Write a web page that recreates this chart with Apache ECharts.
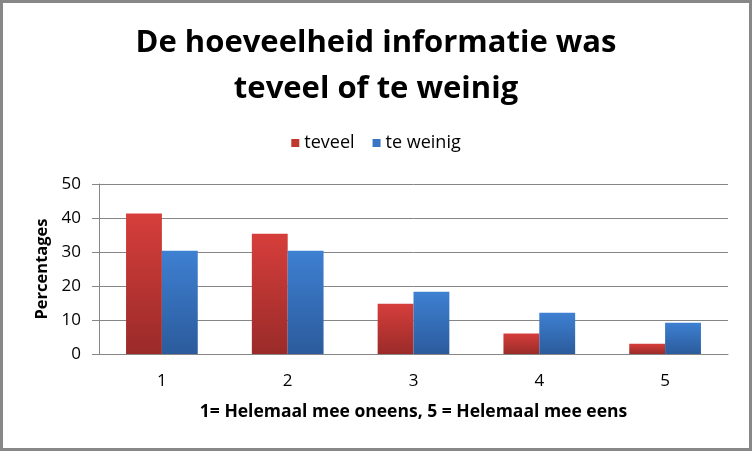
<!DOCTYPE html>
<html>
<head>
<meta charset="utf-8">
<script src="https://cdn.jsdelivr.net/npm/echarts@6/dist/echarts.min.js"></script>
<style>html,body{margin:0;padding:0;background:#fff;}#c{width:752px;height:451px;}</style>
</head>
<body>
<div id="c"></div>
<script>
const categories = ['1', '2', '3', '4', '5'];
const teveel = [41.3, 35.4, 14.8, 6.0, 3.0];
const teWeinig = [30.4, 30.4, 18.3, 12.1, 9.2];
const yTicks = { min: 0, max: 50, interval: 10 };

const FONT = 'Open Sans';
const chart = echarts.init(document.getElementById('c'));
function grad(top, bottom) {
  return new echarts.graphic.LinearGradient(0, 0, 0, 1, [
    { offset: 0, color: top }, { offset: 1, color: bottom }
  ]);
}
chart.setOption({
  backgroundColor: '#fff',
  animation: false,
  textStyle: { fontFamily: FONT },
  title: {
    text: 'De hoeveelheid informatie was\nteveel of te weinig',
    left: 'center', top: 15,
    textStyle: { fontFamily: FONT, fontWeight: 'bold', fontSize: 31, lineHeight: 46, color: '#000' }
  },
  legend: {
    top: 129, left: 'center',
    itemWidth: 8, itemHeight: 8, itemGap: 18,
    icon: 'rect',
    textStyle: { fontFamily: FONT, fontSize: 18, color: '#000' },
    data: [
      { name: 'teveel', itemStyle: { color: '#c0392f' } },
      { name: 'te weinig', itemStyle: { color: '#3a75c4' } }
    ]
  },
  grid: { left: 99, right: 24, top: 184, bottom: 97 },
  xAxis: {
    type: 'category', data: categories,
    name: '1= Helemaal mee oneens, 5 = Helemaal mee eens',
    nameLocation: 'middle', nameGap: 49,
    nameTextStyle: { fontFamily: FONT, fontWeight: 'bold', fontSize: 17.5, color: '#000' },
    axisLine: { lineStyle: { color: '#868686', width: 1 } },
    axisTick: { length: 6, lineStyle: { color: '#868686' } },
    axisLabel: { fontFamily: FONT, fontSize: 17, color: '#000', margin: 19 }
  },
  yAxis: {
    type: 'value', min: yTicks.min, max: yTicks.max, interval: yTicks.interval,
    name: 'Percentages', nameLocation: 'middle', nameGap: 48,
    nameTextStyle: { fontFamily: FONT, fontWeight: 'bold', fontSize: 16.5, color: '#000' },
    axisLine: { show: true, lineStyle: { color: '#868686', width: 1 } },
    axisTick: { show: true, length: 7, lineStyle: { color: '#868686' } },
    axisLabel: { fontFamily: FONT, fontSize: 17, color: '#000', margin: 18 },
    splitLine: { lineStyle: { color: '#868686', width: 1 } }
  },
  series: [
    {
      name: 'teveel', type: 'bar', data: teveel,
      barGap: '0%', barCategoryGap: '43%',
      itemStyle: { color: grad('#d63e3b', '#9a2b29') }
    },
    {
      name: 'te weinig', type: 'bar', data: teWeinig,
      itemStyle: { color: grad('#3e80d2', '#2b5b9c') }
    }
  ],
  graphic: [{
    type: 'rect', silent: true, z: 100,
    shape: { x: 1.5, y: 1.5, width: 749, height: 448 },
    style: { fill: 'none', stroke: '#878787', lineWidth: 3 }
  }]
});
</script>
</body>
</html>
